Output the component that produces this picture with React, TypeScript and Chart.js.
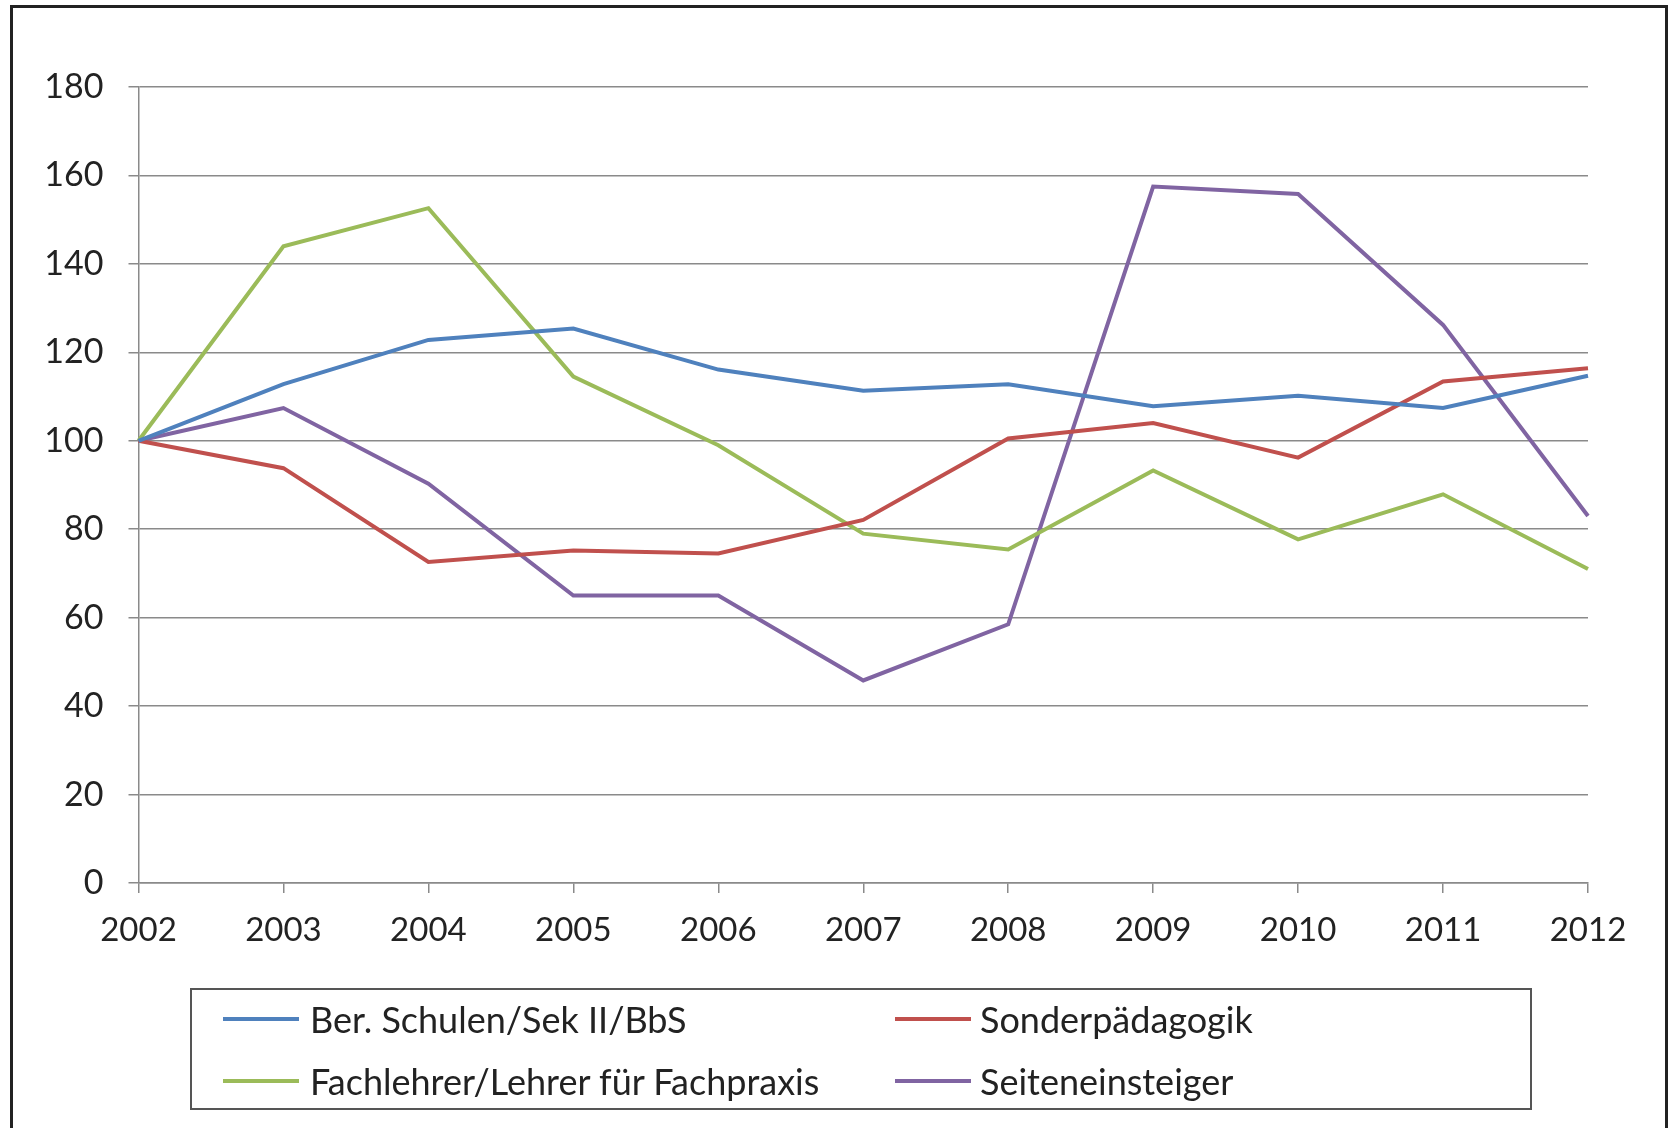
import React, { useEffect, useRef } from "react";
import { Chart, registerables } from "chart.js";

Chart.register(...registerables);

const years = ["2002", "2003", "2004", "2005", "2006", "2007", "2008", "2009", "2010", "2011", "2012"];
const berSchulen = [100, 112.8, 122.8, 125.4, 116.1, 111.3, 112.8, 107.8, 110.2, 107.4, 114.7];
const sonderpaed = [100, 93.8, 72.6, 75.2, 74.5, 82.1, 100.5, 104, 96.2, 113.4, 116.4];
const fachlehrer = [100, 144, 152.6, 114.5, 99, 79, 75.4, 93.3, 77.7, 87.9, 71];
const seiteneinsteiger = [100, 107.4, 90.3, 65, 65, 45.8, 58.5, 157.5, 155.8, 126.2, 83];
const seriesNames = [
  "Ber. Schulen/Sek II/BbS",
  "Sonderpädagogik",
  "Fachlehrer/Lehrer für Fachpraxis",
  "Seiteneinsteiger",
];
const seriesColors = ["#4F81BD", "#C0504D", "#9BBB59", "#8064A2"];
const yTicksMin = 0;
const yTicksMax = 180;
const yTickStep = 20;

const FONT = "Lato, 'Open Sans', sans-serif";
const GRID = "#8a8a8a";

export default function App() {
  const ref = useRef<HTMLCanvasElement | null>(null);

  useEffect(() => {
    if (!ref.current) return;
    const values = [berSchulen, sonderpaed, fachlehrer, seiteneinsteiger];
    const chart = new Chart(ref.current, {
      type: "line",
      data: {
        labels: years,
        datasets: values.map((v, i) => ({
          label: seriesNames[i],
          data: v,
          borderColor: seriesColors[i],
          backgroundColor: seriesColors[i],
          borderWidth: 4,
          pointRadius: 0,
          tension: 0,
          fill: false,
        })),
      },
      options: {
        animation: false,
        responsive: false,
        maintainAspectRatio: false,
        layout: { padding: { left: 30, top: 87, right: 82, bottom: 185 } },
        plugins: { legend: { display: false }, tooltip: { enabled: false } },
        scales: {
          x: {
            type: "category",
            offset: false,
            grid: {
              drawOnChartArea: false,
              drawTicks: true,
              tickLength: 10,
              color: GRID,
              lineWidth: 1.5,
            },
            border: { color: GRID, width: 1.5 },
            ticks: {
              font: { family: FONT, size: 33 },
              color: "#222",
              padding: 18,
              maxRotation: 0,
              autoSkip: false,
            },
            afterFit: (s: any) => {
              s.height = 60;
            },
          },
          y: {
            min: yTicksMin,
            max: yTicksMax,
            ticks: {
              stepSize: yTickStep,
              font: { family: FONT, size: 34 },
              color: "#222",
              padding: 25,
            },
            grid: { color: GRID, lineWidth: 1.5, tickLength: 10 },
            border: { color: GRID, width: 1.5 },
            afterFit: (s: any) => {
              s.width = 108.5;
            },
          },
        },
      },
    });
    return () => chart.destroy();
  }, []);

  const legendItem = (i: number, lineX: number, textX: number, rowY: number) => (
    <React.Fragment key={i}>
      <div
        style={{
          position: "absolute",
          left: lineX,
          top: rowY - 2,
          width: 76,
          height: 4,
          background: seriesColors[i],
        }}
      />
      <div
        style={{
          position: "absolute",
          left: textX,
          top: rowY - 22,
          height: 44,
          lineHeight: "44px",
          fontFamily: FONT,
          fontSize: 36,
          color: "#222",
          whiteSpace: "nowrap",
        }}
      >
        {seriesNames[i]}
      </div>
    </React.Fragment>
  );

  return (
    <div
      style={{
        position: "fixed",
        left: 0,
        top: 0,
        width: 1670,
        height: 1128,
        background: "#fff",
        overflow: "hidden",
      }}
    >
      <div
        style={{
          position: "absolute",
          left: 10,
          top: 5,
          width: 1658,
          height: 1140,
          border: "3px solid #222",
          boxSizing: "border-box",
        }}
      />
      <canvas
        ref={ref}
        width={1670}
        height={1128}
        style={{ position: "absolute", left: 0, top: 0, width: 1670, height: 1128 }}
      />
      <div
        style={{
          position: "absolute",
          left: 190,
          top: 988,
          width: 1342,
          height: 122,
          border: "2px solid #555",
          boxSizing: "border-box",
        }}
      />
      {legendItem(0, 223, 310, 1019)}
      {legendItem(1, 895, 980, 1019)}
      {legendItem(2, 223, 310, 1081)}
      {legendItem(3, 895, 980, 1081)}
    </div>
  );
}
